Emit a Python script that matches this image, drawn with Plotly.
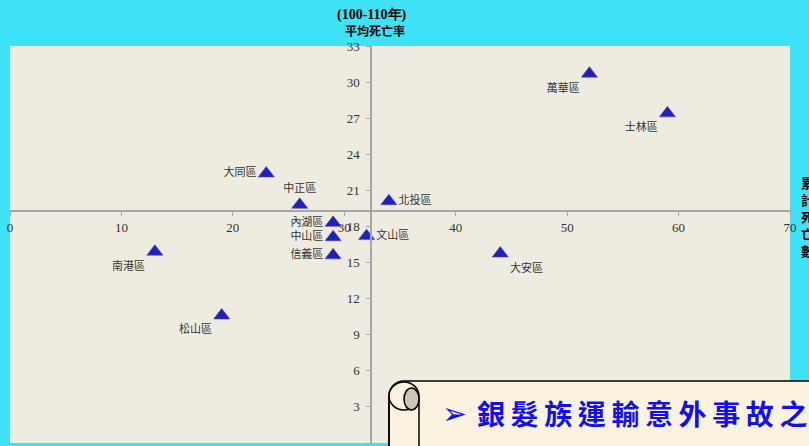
import plotly.graph_objects as go

# ---- data ----
districts = ["萬華區", "士林區", "大同區", "中正區", "北投區", "內湖區",
             "中山區", "信義區", "文山區", "大安區", "南港區", "松山區"]
deaths = [52, 59, 23, 26, 34, 29, 29, 29, 32, 44, 13, 19]          # 累計死亡數
rates = [30.7, 27.4, 22.4, 19.8, 20.1, 18.3, 17.1, 15.6, 17.2, 15.75, 15.9, 10.6]  # 平均死亡率
label_pos = ["bottom left", "bottom left", "middle left", "top center", "middle right",
             "middle left", "middle left", "middle left", "middle right", "bottom right",
             "bottom left", "bottom left"]

x_ticks = [0, 10, 20, 30, 40, 50, 60, 70]
y_ticks = [0, 3, 6, 9, 12, 15, 18, 21, 24, 27, 30, 33]
x_cross = 32.4   # where the y axis crosses
y_cross = 19.25  # where the x axis crosses
x_range = [0, 70]
y_range = [0, 33]

W, H = 809, 446
ML, MR, MT, MB = 10, 19, 46, 3
PW, PH = W - ML - MR, H - MT - MB


def px(x):
    return (x - ML) / PW


def py(y):
    return (H - MB - y) / PH


fig = go.Figure()
fig.add_trace(go.Scatter(
    x=deaths, y=rates, mode="markers+text",
    text=districts, textposition=label_pos,
    textfont=dict(family="Noto Sans CJK TC", size=11, color="#333333"),
    marker=dict(symbol="triangle-up", size=14, color="#1A22C0",
                line=dict(color="#6A3AB0", width=0.6)),
    cliponaxis=False, hoverinfo="skip", showlegend=False,
))

axis_font = dict(family="Liberation Serif", size=13, color="#333333")
fig.update_xaxes(range=x_range, tickvals=x_ticks, anchor="free",
                 position=(y_cross - y_range[0]) / (y_range[1] - y_range[0]),
                 showline=True, linecolor="#A6A6A6", linewidth=1.5,
                 ticks="outside", ticklen=4, tickcolor="#A6A6A6",
                 showgrid=False, zeroline=False, tickfont=axis_font)
fig.update_yaxes(range=y_range, tickvals=y_ticks, anchor="free",
                 position=(x_cross - x_range[0]) / (x_range[1] - x_range[0]),
                 showline=True, linecolor="#A6A6A6", linewidth=1.5,
                 ticks="outside", ticklen=4, tickcolor="#A6A6A6",
                 ticklabelstandoff=4,
                 showgrid=False, zeroline=False, tickfont=axis_font)

# ---- scroll overlay (decorative) ----
def P(x, y):
    return f"{px(x):.5f},{py(y):.5f}"

body = (f"M {P(389, 470)} L {P(389, 396)} C {P(389, 388)} {P(395, 381)} {P(404, 381)} "
        f"L {P(840, 381)} L {P(840, 470)} Z")
shapes = [
    dict(type="path", path=body, xref="paper", yref="paper",
         fillcolor="#FCF2E0", line=dict(color="black", width=1.5), layer="above"),
    dict(type="circle", xref="paper", yref="paper",
         x0=px(389), x1=px(419), y0=py(410), y1=py(382),
         fillcolor="#FCF2E0", line=dict(color="black", width=1.5), layer="above"),
    dict(type="circle", xref="paper", yref="paper",
         x0=px(404), x1=px(419), y0=py(410), y1=py(388),
         fillcolor="#CFC5B4", line=dict(color="black", width=1.5), layer="above"),
    dict(type="line", xref="paper", yref="paper",
         x0=px(419), x1=px(419), y0=py(399), y1=py(470),
         line=dict(color="black", width=1.5), layer="above"),
    dict(type="line", xref="paper", yref="paper",
         x0=px(389), x1=px(389), y0=py(396), y1=py(470),
         line=dict(color="black", width=1.5), layer="above"),
]

annotations = [
    dict(text="<b>(100-110年)</b>", x=px(372), y=py(15), xref="paper", yref="paper",
         xanchor="center", yanchor="middle", showarrow=False,
         font=dict(family="Liberation Serif", size=14, color="black")),
    dict(text="<b>平均死亡率</b>", x=px(375), y=py(31), xref="paper", yref="paper",
         xanchor="center", yanchor="middle", showarrow=False,
         font=dict(family="Noto Sans CJK TC", size=12, color="black")),
    dict(text="<b>累<br>計<br>死<br>亡<br>數</b>", x=px(799), y=py(216), xref="paper",
         yref="paper", xanchor="left", yanchor="middle", showarrow=False, align="left",
         font=dict(family="Noto Sans CJK TC", size=13, color="black")),
    dict(text="<b>➢</b>", x=px(440), y=py(413), xref="paper", yref="paper",
         xanchor="left", yanchor="middle", showarrow=False,
         font=dict(family="DejaVu Sans", size=30, color="#1010F0")),
    dict(text="<b>" + "\u2009".join("銀髮族運輸意外事故之") + "</b>", x=px(475), y=py(413),
         xref="paper", yref="paper", xanchor="left", yanchor="middle", showarrow=False,
         font=dict(family="Noto Sans CJK TC", size=28, color="#1010F0")),
]

fig.update_layout(
    width=W, height=H,
    margin=dict(l=ML, r=MR, t=MT, b=MB),
    paper_bgcolor="#3EE2F6", plot_bgcolor="#EEECE1",
    shapes=shapes, annotations=annotations,
)

fig.write_html("out.html")
